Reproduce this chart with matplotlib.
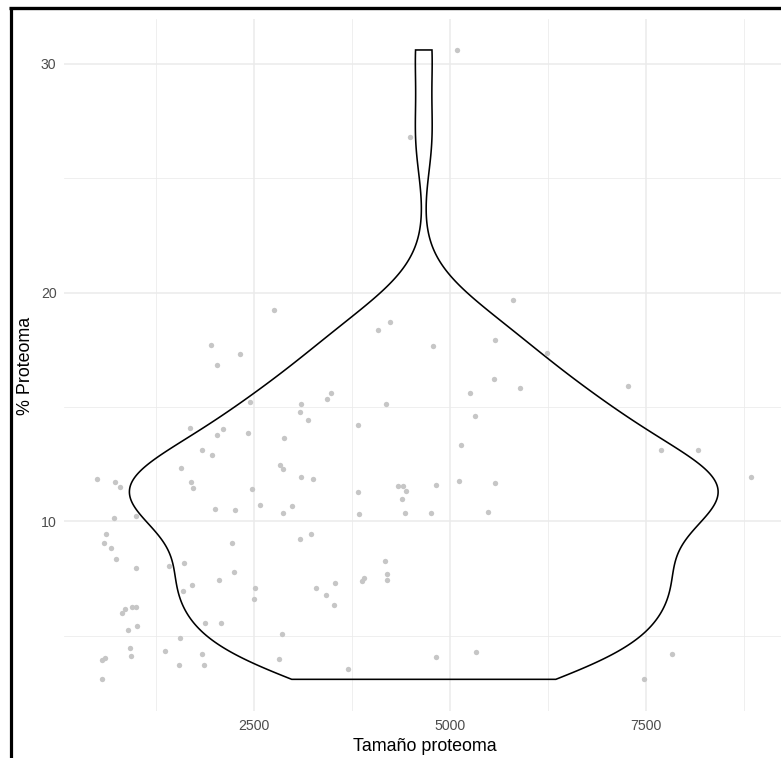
import numpy as np
import matplotlib
matplotlib.use("Agg")
import matplotlib.pyplot as plt
from matplotlib.lines import Line2D
from matplotlib.ticker import FixedLocator

plt.rcParams['font.family'] = ['Liberation Sans', 'DejaVu Sans']

# ---- data ----
tamano = [2759, 1952, 2329, 2032, 3489, 3438, 2453, 3103, 3090, 3192,
          1685, 2113, 2032, 2424, 2886, 1837, 1972, 1570, 2839, 2877,
          3103, 3259, 503, 733, 796, 1701, 1723, 2475,
          2011, 2258, 2580, 2870, 2992, 716, 996, 622, 596, 678,
          745, 1004, 2227, 3094, 3226, 1417, 1612, 2245, 2054, 1710,
          1595, 2520, 2508, 3290, 3540, 3425, 3523, 822, 860, 945,
          996, 1017, 902, 1876, 2080, 2864, 1557, 924, 933, 567,
          605, 1366, 1841, 1544, 1867, 2826, 563,
          5804, 4080, 4233, 4781, 5571, 6233, 5562, 5897, 5252, 4182,
          3833, 5316, 5145, 3825, 4343, 4402, 4444, 4386, 4827, 5120,
          5578,
          3846, 4428, 4763, 5482, 4173, 4195, 4195, 3880, 3902, 4823,
          5329, 3702,
          7266, 7686, 8157, 8837, 7830, 7469,
          5087, 4492]
pct_proteoma = [19.24, 17.71, 17.31, 16.85, 15.62, 15.33, 15.23, 15.12, 14.79, 14.42,
                14.07, 14.05, 13.78, 13.85, 13.66, 13.13, 12.92, 12.35, 12.45, 12.28,
                11.94, 11.86, 11.84, 11.71, 11.51, 11.71, 11.44, 11.40,
                10.53, 10.50, 10.70, 10.35, 10.67, 10.13, 10.22, 9.45, 9.04, 8.85,
                8.37, 7.96, 9.07, 9.21, 9.43, 8.05, 8.19, 7.80, 7.46, 7.22,
                6.97, 7.08, 6.62, 7.08, 7.30, 6.78, 6.34, 5.99, 6.16, 6.25,
                6.25, 5.43, 5.26, 5.56, 5.58, 5.07, 4.91, 4.48, 4.13, 3.93,
                4.02, 4.35, 4.21, 3.73, 3.73, 3.98, 3.11,
                19.68, 18.38, 18.73, 17.66, 17.94, 17.36, 16.23, 15.84, 15.59, 15.11,
                14.20, 14.61, 13.33, 11.29, 11.56, 11.53, 11.31, 10.98, 11.59, 11.78,
                11.66,
                10.34, 10.38, 10.38, 10.42, 8.27, 7.71, 7.42, 7.39, 7.54, 4.06,
                4.28, 3.54,
                15.91, 13.14, 13.13, 11.93, 4.21, 3.10,
                30.60, 26.79]

x_major = [2500, 5000, 7500]
x_minor = [1250, 3750, 6250, 8750]
y_major = [10, 20, 30]
y_minor = [5, 15, 25]

VIOLIN_X = 4667
VIOLIN_HALF = 3750

# ---- figure ----
fig = plt.figure(figsize=(7.81, 7.58), dpi=100)
ax = fig.add_axes([64.2 / 781, 1 - 710.8 / 758, (783.8 - 64.2) / 781, (710.8 - 18.5) / 758])

# violin (gaussian KDE, nrd0 bandwidth, trimmed to data range)
y = np.asarray(pct_proteoma, dtype=float)
n = len(y)
sd = y.std(ddof=1)
q75, q25 = np.percentile(y, [75, 25])
bw = 0.9 * min(sd, (q75 - q25) / 1.34) * n ** -0.2
grid = np.linspace(y.min(), y.max(), 512)
dens = np.exp(-0.5 * ((grid[:, None] - y[None, :]) / bw) ** 2).sum(1) / (n * bw * np.sqrt(2 * np.pi))
half = dens / dens.max() * VIOLIN_HALF
vx = np.concatenate([VIOLIN_X - half, (VIOLIN_X + half)[::-1]])
vy = np.concatenate([grid, grid[::-1]])
ax.fill(vx, vy, facecolor='none', edgecolor='black', linewidth=1.15, zorder=2)

ax.scatter(tamano, pct_proteoma, s=15, color='#c6c6c6', linewidths=0, zorder=3)

# limits with 5% expansion (ggplot style)
xa = np.asarray(tamano, dtype=float)
xr = xa.max() - xa.min()
ax.set_xlim(xa.min() - 0.05 * xr, xa.max() + 0.05 * xr)
yr = y.max() - y.min()
ax.set_ylim(y.min() - 0.05 * yr, y.max() + 0.05 * yr)

ax.xaxis.set_major_locator(FixedLocator(x_major))
ax.xaxis.set_minor_locator(FixedLocator(x_minor))
ax.yaxis.set_major_locator(FixedLocator(y_major))
ax.yaxis.set_minor_locator(FixedLocator(y_minor))
ax.set_xticklabels([str(v) for v in x_major])
ax.set_yticklabels([str(v) for v in y_major])

ax.grid(which='major', color='#ebebeb', linewidth=1.1)
ax.grid(which='minor', color='#ebebeb', linewidth=0.55)
ax.set_axisbelow(True)
for s in ax.spines.values():
    s.set_visible(False)
ax.tick_params(which='both', length=0, labelsize=10.2, labelcolor='#4d4d4d', pad=5.6)

fig.text(425 / 781, (758 - 751) / 758, 'Tamaño proteoma', ha='center', va='baseline',
         fontsize=12.9, color='black')
fig.text(26 / 781, 1 - 366 / 758, '% Proteoma', ha='center', va='center', rotation=90,
         fontsize=12.9, color='black')

# black frame lines of the original capture (left and top)
fig.add_artist(Line2D([10.5 / 781, 10.5 / 781], [1 - 6.7 / 758, 0], transform=fig.transFigure,
                      color='black', linewidth=2.3, solid_capstyle='butt'))
fig.add_artist(Line2D([9 / 781, 1], [1 - 8.3 / 758, 1 - 8.3 / 758], transform=fig.transFigure,
                      color='black', linewidth=2.4, solid_capstyle='butt'))

fig.savefig('out.png', dpi=100)
